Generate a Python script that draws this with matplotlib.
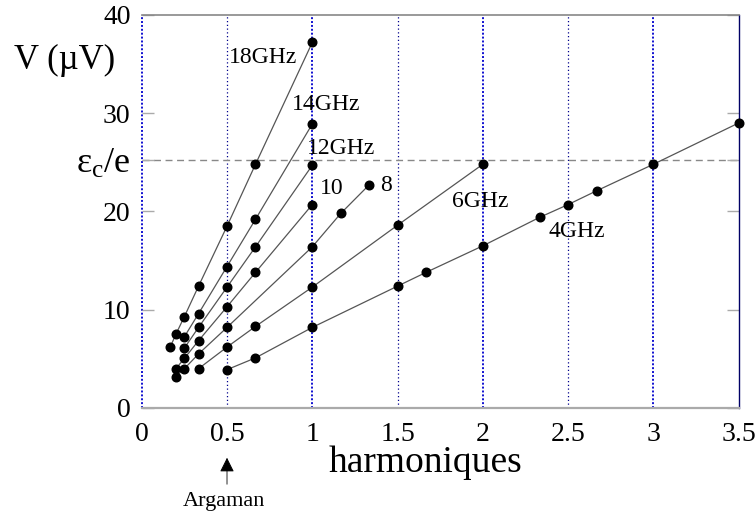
import matplotlib
matplotlib.use('Agg')
import matplotlib.pyplot as plt

plt.rcParams['font.family'] = ['Liberation Serif', 'DejaVu Serif']
plt.rcParams['mathtext.fontset'] = 'custom'
plt.rcParams['mathtext.rm'] = 'Liberation Serif'
plt.rcParams['mathtext.it'] = 'Liberation Serif'

# tension des marches (µV) en fonction de l'harmonique, pour chaque fréquence
x_18 = [0.167, 0.2, 0.25, 0.333, 0.5, 0.667, 1.0]
v_18 = [6.2, 7.5, 9.3, 12.4, 18.5, 24.8, 37.2]

x_14 = [0.25, 0.333, 0.5, 0.667, 1.0]
v_14 = [7.25, 9.6, 14.4, 19.2, 28.9]

x_12 = [0.25, 0.333, 0.5, 0.667, 1.0]
v_12 = [6.1, 8.2, 12.3, 16.4, 24.7]

x_10 = [0.2, 0.25, 0.333, 0.5, 0.667, 1.0]
v_10 = [4.0, 5.05, 6.85, 10.3, 13.8, 20.7]

x_8 = [0.2, 0.25, 0.333, 0.5, 1.0, 1.167, 1.333]
v_8 = [3.2, 4.0, 5.5, 8.2, 16.4, 19.8, 22.7]

x_6 = [0.333, 0.5, 0.667, 1.0, 1.5, 2.0]
v_6 = [4.0, 6.2, 8.3, 12.3, 18.6, 24.8]

x_4 = [0.5, 0.667, 1.0, 1.5, 1.667, 2.0, 2.333, 2.5, 2.667, 3.0, 3.5]
v_4 = [3.9, 5.1, 8.2, 12.4, 13.8, 16.5, 19.4, 20.7, 22.1, 24.8, 29.0]

series = [(x_18, v_18), (x_14, v_14), (x_12, v_12), (x_10, v_10),
          (x_8, v_8), (x_6, v_6), (x_4, v_4)]

# étiquettes des courbes : texte, x, y (ligne de base)
freq_labels = ['18GHz', '14GHz', '12GHz', '10', '8', '6GHz', '4GHz']
label_x = [0.712, 1.08, 1.166, 1.116, 1.43, 1.987, 2.553]
label_y = [35.1, 30.3, 25.84, 21.77, 22.1, 20.45, 17.43]

eps_c = 25.2
xticks = [0, 0.5, 1, 1.5, 2, 2.5, 3, 3.5]
xtick_labels = ['0', '0.5', '1', '1.5', '2', '2.5', '3', '3.5']
yticks = [0, 10, 20, eps_c, 30, 40]
ytick_labels = ['0', '10', '20', r'ε$_\mathrm{c}$/e', '30', '40']

fig = plt.figure(figsize=(7.56, 5.13), dpi=100)
ax = fig.add_axes([0.1875, 0.2047, 0.7894, 0.7661])
ax.set_xlim(0, 3.5)
ax.set_ylim(0, 40)

# lignes verticales pointillées bleues (plus marquées aux entiers)
for xv in [0, 1, 2, 3]:
    ax.axvline(xv, color='#1010d0', lw=1.4, ls=(0, (1, 1)), clip_on=False, zorder=1)
for xv in [0.5, 1.5, 2.5]:
    ax.axvline(xv, color='#00008c', lw=0.9, ls=(0, (1, 2)), zorder=1)

ax.axhline(eps_c, color='#888888', lw=1.0, ls=(0, (5, 3.3)), zorder=1)

for xs, vs in series:
    ax.plot(xs, vs, '-o', color='#555555', lw=0.9, ms=6.2,
            mfc='black', mec='black', clip_on=False, zorder=3)

for txt, lx, ly in zip(freq_labels, label_x, label_y):
    ax.text(lx, ly, txt, fontsize=17, ha='center', va='baseline')

ax.spines['left'].set_visible(False)
ax.spines['top'].set_color('#888888')
ax.spines['top'].set_linewidth(1.2)
ax.spines['bottom'].set_color('#aaaaaa')
ax.spines['bottom'].set_linewidth(1.6)
ax.spines['right'].set_color('#000066')
ax.spines['right'].set_linewidth(1.0)

ax.set_xticks(xticks)
ax.set_xticklabels(xtick_labels)
ax.set_yticks(yticks)
ax.set_yticklabels(ytick_labels)
ax.tick_params(axis='x', length=0, labelsize=20, pad=10)
ax.tick_params(axis='y', direction='in', length=8.6, width=1.0, color='#aaaaaa',
               right=True, labelsize=20, pad=8)
ax.get_yticklabels()[3].set_fontsize(26)

fig.text(425 / 756, 1 - 472 / 513, 'harmoniques', fontsize=27,
         ha='center', va='baseline')
fig.text(65 / 756, 1 - 60 / 513, 'V (µV)', fontsize=25, ha='center', va='center')

# flèche « Argaman » sous l'axe, à x = 0.5
ax.annotate('', xy=(0.5, 513 - 455), xytext=(0.5, 513 - 487),
            xycoords=('data', 'figure pixels'), textcoords=('data', 'figure pixels'),
            arrowprops=dict(arrowstyle='-|>', color='black', lw=0.6,
                            mutation_scale=22), annotation_clip=False)
fig.text(224 / 756, 1 - 506 / 513, 'Argaman', fontsize=16, ha='center', va='baseline')

fig.savefig('out.png', dpi=100)
